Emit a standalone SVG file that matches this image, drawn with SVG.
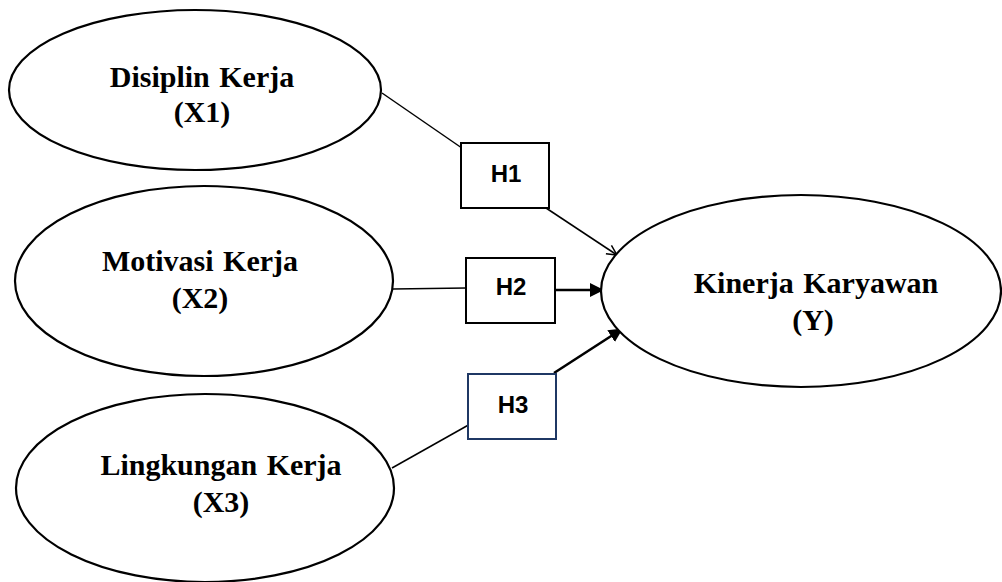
<svg xmlns="http://www.w3.org/2000/svg" width="1002" height="582" viewBox="0 0 1002 582">
<style>
.node ellipse{fill:#fff;stroke:#000;stroke-width:2.2}
.lbl{font-family:"Liberation Serif","Times New Roman",serif;font-weight:bold;font-size:30px;word-spacing:2px;fill:#000;text-anchor:middle}
.box rect{fill:#fff;stroke:#000;stroke-width:2}
.htxt{font-family:"Liberation Sans",Arial,sans-serif;font-weight:bold;font-size:24px;fill:#000;text-anchor:middle}
.thin{stroke:#000;stroke-width:1.5;fill:none}
.thick{stroke:#000;stroke-width:2.6;fill:none}
</style>
<defs>
<marker id="open" viewBox="0 0 12 12" refX="11" refY="6" markerWidth="12" markerHeight="12" markerUnits="userSpaceOnUse" orient="auto">
<path d="M1,1 L11,6 L1,11" fill="none" stroke="#000" stroke-width="1.5"/>
</marker>
<marker id="solid" viewBox="0 0 14 14" refX="13" refY="7" markerWidth="14" markerHeight="14" markerUnits="userSpaceOnUse" orient="auto">
<path d="M0,0 L14,7 L0,14 Z" fill="#000"/>
</marker>
</defs>
<g id="connectors">
<line class="thin" x1="382" y1="93" x2="472" y2="155"/>
<line class="thin" x1="543" y1="206" x2="617" y2="255" marker-end="url(#open)"/>
<line class="thin" x1="393" y1="289" x2="466" y2="288"/>
<line class="thick" x1="555" y1="290" x2="603" y2="290" marker-end="url(#solid)"/>
<line class="thin" x1="392" y1="468" x2="472" y2="423"/>
<line class="thick" x1="554" y1="373" x2="622" y2="329" marker-end="url(#solid)"/>
</g>
<g id="node-x1" class="node">
<ellipse cx="195" cy="90" rx="186" ry="80"/>
<text class="lbl" x="202" y="87">Disiplin Kerja</text>
<text class="lbl" x="202" y="122">(X1)</text>
</g>
<g id="node-x2" class="node">
<ellipse cx="204" cy="281" rx="189" ry="95"/>
<text class="lbl" x="200" y="271">Motivasi Kerja</text>
<text class="lbl" x="200" y="308">(X2)</text>
</g>
<g id="node-x3" class="node">
<ellipse cx="205" cy="488" rx="189" ry="94"/>
<text class="lbl" x="221" y="475">Lingkungan Kerja</text>
<text class="lbl" x="221" y="512">(X3)</text>
</g>
<g id="node-y" class="node">
<ellipse cx="801" cy="291" rx="200" ry="96"/>
<text class="lbl" x="816" y="293">Kinerja Karyawan</text>
<text class="lbl" x="813" y="330">(Y)</text>
</g>
<g id="box-h1" class="box">
<rect x="461" y="143" width="88" height="65"/>
<text class="htxt" x="506" y="182">H1</text>
</g>
<g id="box-h2" class="box">
<rect x="466" y="258" width="89" height="65"/>
<text class="htxt" x="511" y="295">H2</text>
</g>
<g id="box-h3" class="box">
<rect x="468" y="374" width="88" height="65" style="stroke:#1f3864"/>
<text class="htxt" x="513" y="413">H3</text>
</g>
</svg>
